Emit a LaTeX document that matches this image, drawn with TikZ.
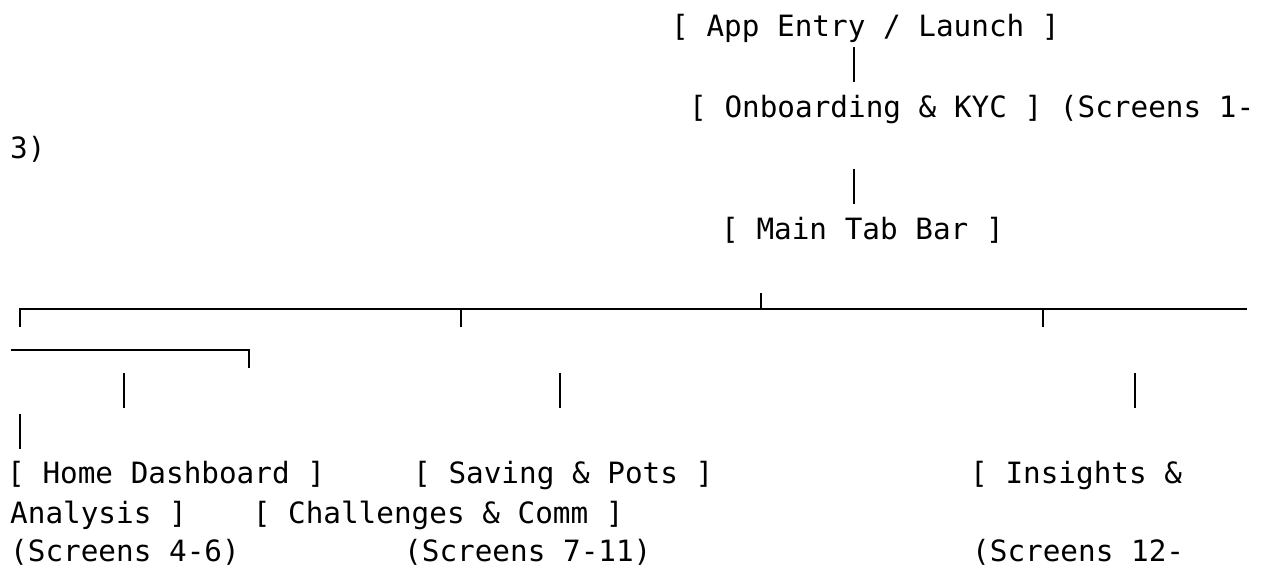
\documentclass[tikz,border=0pt]{standalone}
\usepackage{fontspec}
\setmonofont{DejaVu Sans Mono}
\tikzset{
  txt/.style={font=\ttfamily\fontsize{29.33}{35}\selectfont, inner sep=0pt, anchor=base west, text=black},
  conn/.style={line width=2pt, line cap=butt, draw=black},
}
\begin{document}
\begin{tikzpicture}[x=1pt,y=-1pt]
\useasboundingbox[fill=white] (0,0) rectangle (1262,569);
% text rows
\node[txt] (app)   at (671,36.3)  {[ App Entry / Launch ]};
\node[txt] (onb)   at (689,117.6) {[ Onboarding \& KYC ] (Screens 1-};
\node[txt] (onb2)  at (10,158.2)  {3)};
\node[txt] (main)  at (721,239.5) {[ Main Tab Bar ]};
\node[txt] (home)  at (7,483.3)   {[ Home Dashboard ]};
\node[txt] (save)  at (413,483.3) {[ Saving \& Pots ]};
\node[txt] (ins)   at (970,483.3) {[ Insights \&};
\node[txt] (ins2)  at (10,523.5)  {Analysis ]};
\node[txt] (chal)  at (252.6,523.5) {[ Challenges \& Comm ]};
\node[txt] (scrA)  at (10,561)    {(Screens 4-6)};
\node[txt] (scrB)  at (404,561)   {(Screens 7-11)};
\node[txt] (scrC)  at (972,561)   {(Screens 12-};
% vertical pipes
\coordinate (p1t) at (854,46.7);   \coordinate (p1b) at (854,81.7);
\coordinate (p2t) at (854,168.6);  \coordinate (p2b) at (854,203.6);
\coordinate (p3t) at (124.3,373);  \coordinate (p3b) at (124.3,408);
\coordinate (p4t) at (560.3,373);  \coordinate (p4b) at (560.3,408);
\coordinate (p5t) at (1135,373);   \coordinate (p5b) at (1135,408);
\coordinate (p6t) at (20,413.7);   \coordinate (p6b) at (20,448.7);
\foreach \p in {1,...,6} {\draw[conn] (p\p t) -- (p\p b);}
% box-drawing rule, first wrapped row
\coordinate (c0b) at (19.5,327);  \coordinate (c0) at (19.5,309);
\coordinate (rowEnd) at (1246.7,309);
\draw[conn] (c0b) -- (c0) -- (rowEnd);
\coordinate (t1) at (460.5,309);  \coordinate (t1b) at (460.5,327);
\coordinate (t2) at (1042.5,309); \coordinate (t2b) at (1042.5,327);
\coordinate (t3) at (761,309);    \coordinate (t3t) at (761,292.7);
\draw[conn] (t1) -- (t1b);
\draw[conn] (t2) -- (t2b);
\draw[conn] (t3) -- (t3t);
% second wrapped row
\coordinate (r2s) at (10.7,350); \coordinate (r2c) at (249,350); \coordinate (r2b) at (249,368.3);
\draw[conn] (r2s) -- (r2c) -- (r2b);
\end{tikzpicture}
\end{document}
